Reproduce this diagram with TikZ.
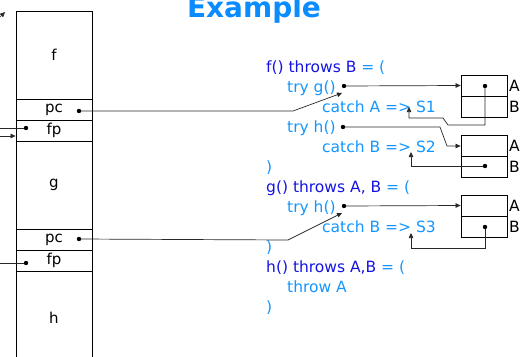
\documentclass[tikz,border=0pt]{standalone}
\usepackage{fontspec}
\setmainfont{DejaVu Sans}
\usetikzlibrary{arrows.meta}
\definecolor{dkblue}{RGB}{20,20,225}
\definecolor{ltblue}{RGB}{20,150,255}
\definecolor{titleblue}{RGB}{10,140,255}
\definecolor{wire}{RGB}{40,40,40}
\tikzset{
  cell/.style={draw=black, line width=0.8pt, minimum width=76pt, inner sep=0pt, font=\fontsize{15}{18}\selectfont},
  tcell/.style={draw=black, line width=0.8pt, minimum width=46pt, minimum height=21pt, inner sep=0pt},
  code/.style={anchor=base west, inner sep=0pt, font=\fontsize{15.5}{18}\selectfont, text=ltblue},
  lab/.style={anchor=west, inner sep=0pt, font=\fontsize{15.5}{18}\selectfont},
  wirel/.style={draw=wire, line width=0.7pt},
  arr/.style={wirel, -{Triangle[length=5pt,width=4.5pt]}},
  dotc/.style={fill=black}
}
\begin{document}
\begin{tikzpicture}[x=1pt,y=-1pt]
\useasboundingbox (0,0) rectangle (521,356);
% title
\node[anchor=base, inner sep=0pt, font=\fontsize{28}{30}\selectfont\bfseries, text=titleblue] (title) at (254,17) {Example};
% stack
\node[cell, minimum height=88pt] (f) at (54,55) {f};
\node[cell, minimum height=21pt] (fpc) at (54,109.5) {pc};
\node[cell, minimum height=21pt] (ffp) at (54,130.5) {fp};
\node[cell, minimum height=88pt] (g) at (54,185) {g};
\node[cell, minimum height=21pt] (gpc) at (54,239.5) {pc};
\node[cell, minimum height=21pt] (gfp) at (54,260.5) {fp};
\node[cell, minimum height=100pt] (h) at (54,321) {};
\node[inner sep=0pt, font=\fontsize{15}{18}\selectfont] (hl) at (54,318) {h};
% code
\node[code] (c1) at (266,72) {\textcolor{dkblue}{f() throws B} = (};
\node[code] (c2) at (287,92) {try g()};
\node[code] (c3) at (322,112) {catch A => S1};
\node[code] (c4) at (287,132) {try h()};
\node[code] (c5) at (322,152) {catch B => S2};
\node[code] (c6) at (266,172) {)};
\node[code] (c7) at (266,192) {\textcolor{dkblue}{g() throws A, B} = (};
\node[code] (c8) at (287,212) {try h()};
\node[code] (c9) at (322,232) {catch B => S3};
\node[code] (c10) at (266,252) {)};
\node[code] (c11) at (266,272) {\textcolor{dkblue}{h() throws A,B} = (};
\node[code] (c12) at (287,292) {throw A};
\node[code] (c13) at (266,312) {)};
% tables
\node[tcell] (t1a) at (484,85.5) {};
\node[tcell] (t1b) at (484,106.5) {};
\node[tcell] (t2a) at (484,146) {};
\node[tcell] (t2b) at (484,166.5) {};
\node[tcell] (t3a) at (484,205.5) {};
\node[tcell] (t3b) at (484,226.5) {};
\node[lab] (l1a) at (509,86) {A};
\node[lab] (l1b) at (509,107) {B};
\node[lab] (l2a) at (509,146) {A};
\node[lab] (l2b) at (509,167) {B};
\node[lab] (l3a) at (509,206) {A};
\node[lab] (l3b) at (509,227) {B};
% dot coordinates
\coordinate (fpcd) at (79,111);
\coordinate (ffpd) at (26,128);
\coordinate (gpcd) at (79,239);
\coordinate (gfpd) at (26,263);
\coordinate (tg) at (344,86);
\coordinate (th1) at (343,127);
\coordinate (th2) at (344,206);
\coordinate (d1) at (485,86);
\coordinate (d2) at (485,166);
\coordinate (d3) at (485,227);
\coordinate (s1) at (409,107);
\coordinate (s2) at (411,152);
\coordinate (s3) at (411,233);
\coordinate (e1) at (342,93);
\coordinate (e2) at (342,213);
\coordinate (lf1) at (0,128);
\coordinate (lf2) at (0,136);
\coordinate (lf3) at (0,263);
\coordinate (tl0) at (0,17);
\coordinate (tl1) at (5,12);
% connectors
\draw[arr] (fpcd) -- (293,111) -- (e1);
\draw[arr] (gpcd) -- (288,240) -- (e2);
\draw[arr] (tg) -- (t1a.west);
\draw[arr] (d1) -- (485,125) -- (448,125) -- (443,118) -- (409,118) -- (s1);
\draw[arr] (th1) -- (440,127) -- (447,146) -- (t2a.west);
\draw[arr] (d2) -- (411,166) -- (s2);
\draw[arr] (th2) -- (t3a.west);
\draw[arr] (d3) -- (485,248) -- (411,248) -- (s3);
\draw[wirel] (ffpd) -- (lf1);
\draw[arr] (lf2) -- (ffp.west |- lf2);
\draw[wirel] (gfpd) -- (lf3);
\draw[arr] (tl0) -- (tl1);
% dots
\foreach \p in {fpcd,ffpd,gpcd,gfpd,tg,th1,th2,d1,d2,d3}
  \fill[dotc] (\p) circle (2.2pt);
\end{tikzpicture}
\end{document}
